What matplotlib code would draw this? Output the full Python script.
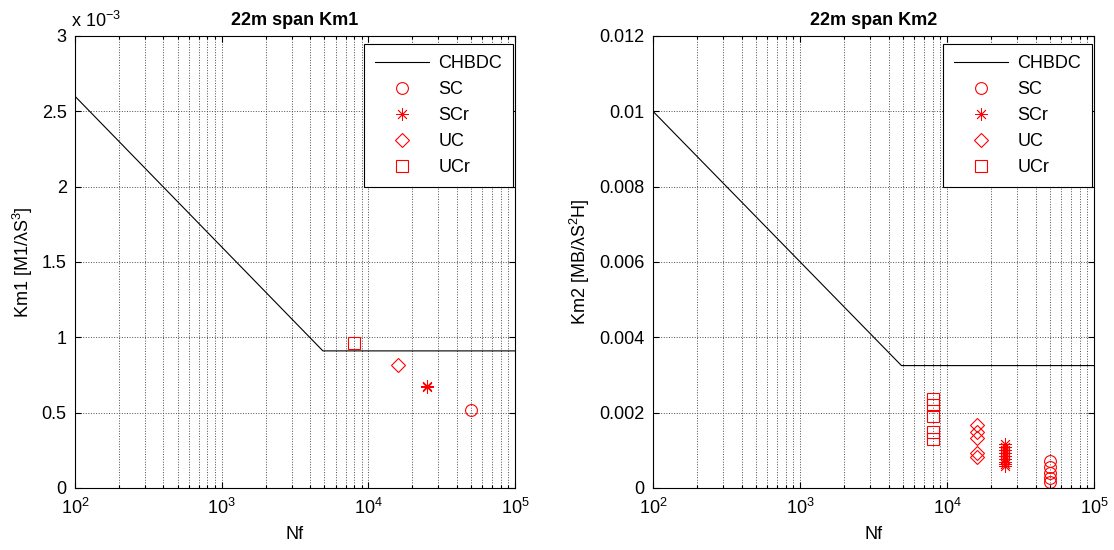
import matplotlib
matplotlib.use("Agg")
import matplotlib.pyplot as plt
from matplotlib.ticker import LogLocator, FixedLocator, FuncFormatter, NullFormatter

plt.rcParams['font.family'] = ['Liberation Sans', 'DejaVu Sans']
plt.rcParams['mathtext.fontset'] = 'custom'
plt.rcParams['mathtext.rm'] = 'Liberation Sans'
plt.rcParams['mathtext.it'] = 'Liberation Sans'
plt.rcParams['mathtext.bf'] = 'Liberation Sans:bold'
plt.rcParams['font.size'] = 13

FS = 13

# CHBDC design curve
chbdc_nf = [100, 4900, 100000]
chbdc_km1 = [2.6e-3, 0.91e-3, 0.91e-3]
chbdc_km2 = [0.010, 0.00325, 0.00325]

# Km1 results
sc_nf_1, sc_km1 = [50000], [0.52e-3]
scr_nf_1, scr_km1 = [25000, 25000], [0.67e-3, 0.68e-3]
uc_nf_1, uc_km1 = [16000], [0.815e-3]
ucr_nf_1, ucr_km1 = [8000], [0.96e-3]

# Km2 results
sc_km2 = [0.00072, 0.00056, 0.00040, 0.00026, 0.00016]
scr_km2 = [0.00118, 0.00110, 0.00102, 0.00094, 0.00086, 0.00078, 0.00070,
           0.00064, 0.00058]
uc_km2 = [0.00168, 0.00150, 0.00132, 0.00094, 0.00082]
ucr_km2 = [0.00236, 0.00220, 0.00190, 0.00150, 0.00130]
sc_nf_2 = [50000] * len(sc_km2)
scr_nf_2 = [25000] * len(scr_km2)
uc_nf_2 = [16000] * len(uc_km2)
ucr_nf_2 = [8000] * len(ucr_km2)

y1_ticks = [0, 0.5e-3, 1e-3, 1.5e-3, 2e-3, 2.5e-3, 3e-3]
y2_ticks = [0, 0.002, 0.004, 0.006, 0.008, 0.010, 0.012]

fig = plt.figure(figsize=(11.14, 5.5), dpi=100)
ax1 = fig.add_axes([75 / 1114, 62 / 550, 440 / 1114, 452 / 550])
ax2 = fig.add_axes([653 / 1114, 62 / 550, 441 / 1114, 452 / 550])

red = '#ff0000'
mk = dict(color=red, linestyle='none', markerfacecolor='none')


def draw(ax, km_line, sc, scr, uc, ucr):
    ax.plot(chbdc_nf, km_line, color='black', linewidth=0.8, label='CHBDC')
    ax.plot(sc[0], sc[1], marker='o', markersize=8.5, markeredgewidth=0.8,
            label='SC', **mk)
    ax.plot(scr[0], scr[1], marker=(8, 2, 0), markersize=9,
            markeredgewidth=0.6, label='SCr', **mk)
    ax.plot(uc[0], uc[1], marker='D', markersize=7, markeredgewidth=0.8,
            label='UC', **mk)
    ax.plot(ucr[0], ucr[1], marker='s', markersize=8, markeredgewidth=0.8,
            label='UCr', **mk)
    ax.set_xscale('log')
    ax.set_xlim(100, 100000)
    ax.xaxis.set_major_locator(LogLocator(base=10, numticks=10))
    ax.xaxis.set_minor_locator(LogLocator(base=10, subs=range(2, 10), numticks=20))
    ax.xaxis.set_minor_formatter(NullFormatter())
    ax.grid(True, which='major', axis='both', linestyle=':', color='0.3',
            linewidth=0.7)
    ax.grid(True, which='minor', axis='x', linestyle=':', color='0.3',
            linewidth=0.7)
    ax.tick_params(which='both', direction='in', top=True, right=True,
                   labelsize=FS, width=0.8)
    ax.tick_params(which='major', length=4)
    ax.tick_params(which='minor', length=2.5)
    ax.tick_params(axis='x', which='major', pad=7)
    ax.tick_params(axis='y', which='major', pad=6)
    for s in ax.spines.values():
        s.set_linewidth(0.8)
    ax.set_xlabel('Nf', fontsize=FS, labelpad=6)
    leg = ax.legend(loc='upper right', bbox_to_anchor=(1 - 2 / 440, 1 - 8 / 452),
                    fontsize=FS, handlelength=3.0,
                    handletextpad=0.5, labelspacing=0.5, borderpad=0.6,
                    borderaxespad=0.0, fancybox=False, framealpha=1,
                    edgecolor='black', numpoints=1)
    leg.get_frame().set_linewidth(0.8)


draw(ax1, chbdc_km1, (sc_nf_1, sc_km1), (scr_nf_1, scr_km1),
     (uc_nf_1, uc_km1), (ucr_nf_1, ucr_km1))
ax1.set_ylim(0, 3e-3)
ax1.yaxis.set_major_locator(FixedLocator(y1_ticks))
ax1.yaxis.set_major_formatter(FuncFormatter(lambda v, p: f'{v * 1e3:g}'))
ax1.text(-0.01, 1.01, r'x 10$^{-3}$', transform=ax1.transAxes, ha='left',
         va='bottom', fontsize=FS)
ax1.set_ylabel('Km1 [M1/λS$^3$]', fontsize=FS, labelpad=5)
ax1.set_title('22m span Km1', fontsize=FS, fontweight='bold', pad=8)

draw(ax2, chbdc_km2, (sc_nf_2, sc_km2), (scr_nf_2, scr_km2),
     (uc_nf_2, uc_km2), (ucr_nf_2, ucr_km2))
ax2.set_ylim(0, 0.012)
ax2.yaxis.set_major_locator(FixedLocator(y2_ticks))
ax2.yaxis.set_major_formatter(FuncFormatter(lambda v, p: f'{v:g}'))
ax2.set_ylabel('Km2 [MB/λS$^2$H]', fontsize=FS, labelpad=5)
ax2.set_title('22m span Km2', fontsize=FS, fontweight='bold', pad=8)

fig.savefig('out.png', dpi=100)
